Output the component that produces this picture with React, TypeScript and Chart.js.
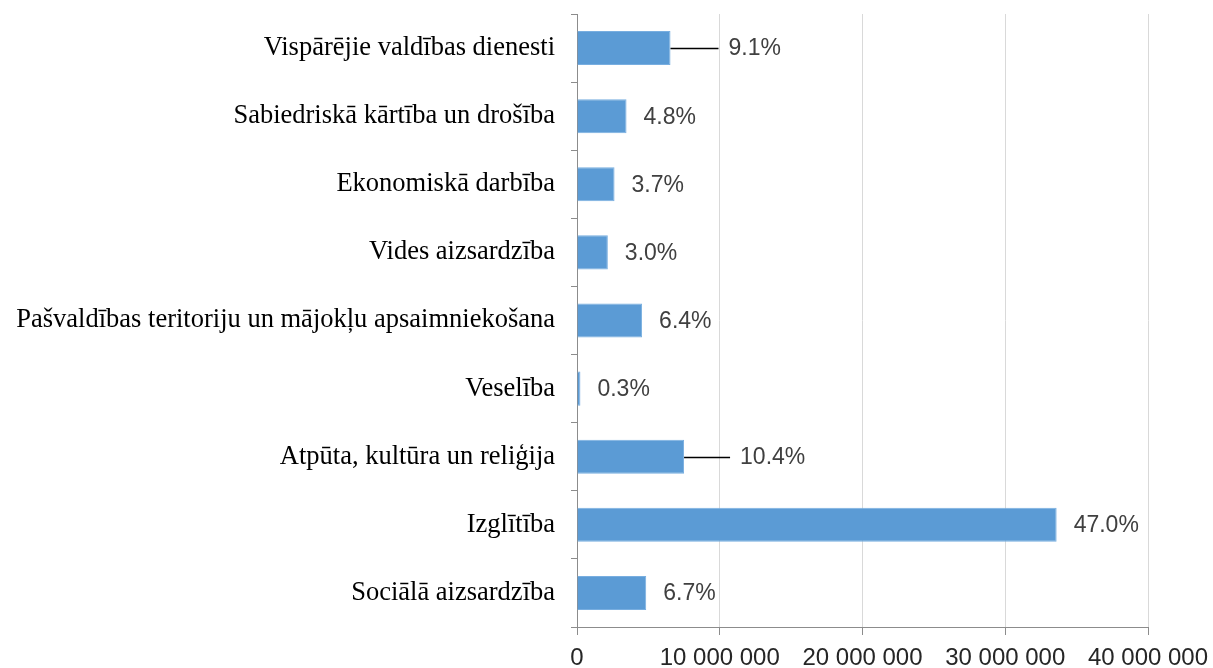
import React, { useEffect, useRef } from "react";
import { Chart, registerables } from "chart.js";

Chart.register(...registerables);

const categories = [
  "Vispārējie valdības dienesti",
  "Sabiedriskā kārtība un drošība",
  "Ekonomiskā darbība",
  "Vides aizsardzība",
  "Pašvaldības teritoriju un mājokļu apsaimniekošana",
  "Veselība",
  "Atpūta, kultūra un reliģija",
  "Izglītība",
  "Sociālā aizsardzība",
];

const expenditure = [
  6550000, 3470000, 2630000, 2160000, 4560000, 240000, 7500000, 33600000, 4850000,
];

const shareLabels = ["9.1%", "4.8%", "3.7%", "3.0%", "6.4%", "0.3%", "10.4%", "47.0%", "6.7%"];

// extra horizontal shift (px) for labels that are drawn with a leader line
const leaderShift = [41, 0, 0, 0, 0, 0, 39, 0, 0];

const xTicks = [0, 10000000, 20000000, 30000000, 40000000];

const fmt = (v: number) => String(v).replace(/\B(?=(\d{3})+(?!\d))/g, " ");

const labelPlugin = {
  id: "shareLabels",
  afterDatasetsDraw(chart: any) {
    const ctx = chart.ctx;
    const meta = chart.getDatasetMeta(0);
    ctx.save();
    ctx.font = "23px 'Liberation Sans', sans-serif";
    ctx.fillStyle = "#404040";
    ctx.textAlign = "left";
    ctx.textBaseline = "middle";
    meta.data.forEach((bar: any, i: number) => {
      const gap = 17 + leaderShift[i];
      const x = bar.x + gap;
      const y = bar.y;
      if (leaderShift[i] > 0) {
        ctx.beginPath();
        ctx.strokeStyle = "#000000";
        ctx.lineWidth = 1.5;
        ctx.moveTo(bar.x, Math.round(y) + 0.5);
        ctx.lineTo(x - 10, Math.round(y) + 0.5);
        ctx.stroke();
      }
      ctx.fillText(shareLabels[i], x, y + 1);
    });
    ctx.restore();
  },
};

export default function App() {
  const ref = useRef<HTMLCanvasElement | null>(null);

  useEffect(() => {
    document.body.style.margin = "0";
    if (!ref.current) return;
    const chart = new Chart(ref.current, {
      type: "bar",
      data: {
        labels: categories,
        datasets: [
          {
            data: expenditure,
            backgroundColor: "#5b9bd5",
            borderColor: "#78aee0",
            borderWidth: 1,
            barPercentage: 0.5,
            categoryPercentage: 1,
          },
        ],
      },
      options: {
        indexAxis: "y",
        animation: false,
        responsive: false,
        layout: { padding: { top: 14, right: 65, left: 0, bottom: 0 } },
        plugins: {
          legend: { display: false },
          tooltip: { enabled: false },
        },
        scales: {
          x: {
            min: 0,
            max: 40000000,
            afterBuildTicks: (scale: any) => {
              scale.ticks = xTicks.map((v) => ({ value: v }));
            },
            afterFit: (scale: any) => {
              scale.height = 41;
              scale.paddingLeft = 0;
              scale.paddingRight = 0;
              scale.paddingTop = 0;
              scale.paddingBottom = 0;
            },
            grid: {
              color: "#d9d9d9",
              tickColor: "#8c8c8c",
              tickLength: 8,
              lineWidth: 1,
            },
            border: { color: "#8c8c8c", width: 1 },
            ticks: {
              padding: 9,
              color: "#262626",
              font: { family: "'Liberation Sans', sans-serif", size: 24 },
              maxRotation: 0,
              callback: (v: any) => fmt(Number(v)),
            },
          },
          y: {
            afterFit: (scale: any) => {
              scale.width = 577;
              scale.paddingLeft = 0;
              scale.paddingRight = 0;
              scale.paddingTop = 0;
              scale.paddingBottom = 0;
            },
            grid: {
              offset: true,
              drawOnChartArea: false,
              color: "#8c8c8c",
              tickLength: 6,
            },
            border: { color: "#8c8c8c", width: 1 },
            ticks: {
              padding: 16,
              color: "#000000",
              font: { family: "'Liberation Serif', serif", size: 26.5 },
            },
          },
        },
      },
      plugins: [labelPlugin],
    });
    return () => chart.destroy();
  }, []);

  return (
    <div style={{ width: 1213, height: 668 }}>
      <canvas ref={ref} width={1213} height={668} />
    </div>
  );
}
